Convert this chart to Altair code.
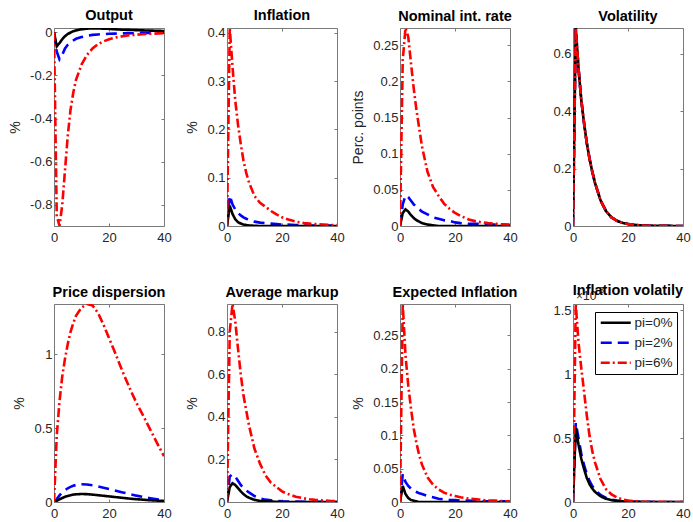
import altair as alt
import pandas as pd

FONT = "Liberation Sans"
GRAY = "#262626"
AX = "#7a7a7a"

T = [0, 1, 2, 3, 4, 5, 6, 7, 8, 10, 12, 14, 16, 18, 20, 22, 25, 28, 30, 32, 35, 38, 40]
SERIES = ["pi=0%", "pi=2%", "pi=6%"]
COLORS = ["#000000", "#0000ff", "#ff0000"]
DASHES = [[1, 0], [11, 6], [9, 3, 2, 3]]
DRAW_ORDER = [1, 0, 2]  # blue under black, red on top
X_TICKS = [0, 20, 40]
EXPONENT = ["×10", "-3"]

# Output
out_0 = [0, -0.065, -0.05, -0.032, -0.018, -0.008, -0.001, 0.005, 0.009, 0.014, 0.017, 0.018, 0.018, 0.017, 0.016, 0.014, 0.012, 0.011, 0.010, 0.009, 0.008, 0.007, 0.006]
out_2 = [0, -0.09, -0.125, -0.105, -0.075, -0.058, -0.047, -0.038, -0.03, -0.022, -0.016, -0.012, -0.01, -0.008, -0.007, -0.006, -0.005, -0.004, -0.004, -0.003, -0.003, -0.002, -0.002]
out_6 = [0, -0.85, -0.898, -0.8, -0.64, -0.48, -0.36, -0.28, -0.22, -0.15, -0.105, -0.075, -0.055, -0.042, -0.032, -0.025, -0.018, -0.013, -0.011, -0.009, -0.007, -0.005, -0.004]
# Inflation
inf_0 = [0, 0.042, 0.025, 0.014, 0.008, 0.005, 0.003, 0.002, 0.001, 0.0005, 0, 0, 0, 0, 0, 0, 0, 0, 0, 0, 0, 0, 0]
inf_2 = [0, 0.063, 0.045, 0.034, 0.027, 0.022, 0.018, 0.015, 0.013, 0.009, 0.007, 0.006, 0.005, 0.004, 0.003, 0.003, 0.002, 0.002, 0.001, 0.001, 0.001, 0.001, 0.001]
inf_6 = [0, 0.41, 0.33, 0.26, 0.21, 0.17, 0.135, 0.11, 0.09, 0.062, 0.048, 0.04, 0.031, 0.024, 0.018, 0.014, 0.009, 0.006, 0.005, 0.004, 0.003, 0.002, 0.002]
# Nominal interest rate
nom_0 = [0, 0.018, 0.023, 0.02, 0.015, 0.011, 0.008, 0.006, 0.004, 0.002, 0.001, 0, 0, 0, 0, 0, 0, 0, 0, 0, 0, 0, 0]
nom_2 = [0, 0.03, 0.042, 0.04, 0.035, 0.03, 0.026, 0.023, 0.02, 0.016, 0.012, 0.01, 0.008, 0.007, 0.005, 0.004, 0.003, 0.003, 0.002, 0.002, 0.002, 0.002, 0.001]
nom_6 = [0, 0.23, 0.274, 0.262, 0.225, 0.19, 0.16, 0.135, 0.11, 0.075, 0.054, 0.042, 0.031, 0.024, 0.018, 0.014, 0.009, 0.006, 0.005, 0.004, 0.003, 0.002, 0.002]
# Volatility (identical across inflation targets)
vol_0 = [0, 0.69, 0.55, 0.44, 0.36, 0.29, 0.235, 0.19, 0.15, 0.09, 0.052, 0.03, 0.018, 0.011, 0.007, 0.004, 0.002, 0.001, 0.0008, 0.0005, 0.0003, 0.0002, 0.0001]
vol_2 = [0, 0.69, 0.55, 0.44, 0.36, 0.29, 0.235, 0.19, 0.15, 0.09, 0.052, 0.03, 0.018, 0.011, 0.007, 0.004, 0.002, 0.001, 0.0008, 0.0005, 0.0003, 0.0002, 0.0001]
vol_6 = [0, 0.69, 0.55, 0.44, 0.36, 0.29, 0.235, 0.19, 0.15, 0.09, 0.052, 0.03, 0.018, 0.011, 0.007, 0.004, 0.002, 0.001, 0.0008, 0.0005, 0.0003, 0.0002, 0.0001]
# Price dispersion
pd_0 = [0, 0.008, 0.018, 0.027, 0.035, 0.041, 0.046, 0.05, 0.052, 0.054, 0.053, 0.05, 0.046, 0.042, 0.038, 0.034, 0.028, 0.022, 0.019, 0.016, 0.012, 0.009, 0.007]
pd_2 = [0, 0.02, 0.045, 0.065, 0.08, 0.093, 0.102, 0.11, 0.115, 0.12, 0.118, 0.113, 0.106, 0.097, 0.088, 0.079, 0.065, 0.051, 0.043, 0.036, 0.026, 0.017, 0.012]
pd_6 = [0, 0.45, 0.68, 0.85, 0.97, 1.07, 1.15, 1.21, 1.26, 1.315, 1.34, 1.33, 1.28, 1.2, 1.11, 1.02, 0.88, 0.75, 0.67, 0.6, 0.49, 0.38, 0.31]
# Average markup
mk_0 = [0, 0.07, 0.088, 0.08, 0.065, 0.05, 0.037, 0.027, 0.02, 0.01, 0.005, 0.003, 0.002, 0.001, 0, 0, 0, 0, 0, 0, 0, 0, 0]
mk_2 = [0, 0.12, 0.13, 0.12, 0.1, 0.08, 0.065, 0.054, 0.045, 0.028, 0.017, 0.011, 0.008, 0.005, 0.003, 0.002, 0.002, 0.001, 0.001, 0.001, 0.001, 0.001, 0]
mk_6 = [0, 0.8, 0.93, 0.85, 0.72, 0.6, 0.5, 0.43, 0.36, 0.25, 0.18, 0.125, 0.09, 0.07, 0.05, 0.038, 0.025, 0.017, 0.013, 0.01, 0.007, 0.005, 0.004]
# Expected inflation
ei_0 = [0, 0.024, 0.012, 0.006, 0.003, 0.002, 0.001, 0, 0, 0, 0, 0, 0, 0, 0, 0, 0, 0, 0, 0, 0, 0, 0]
ei_2 = [0, 0.042, 0.03, 0.024, 0.02, 0.017, 0.015, 0.013, 0.012, 0.009, 0.007, 0.005, 0.004, 0.003, 0.003, 0.002, 0.002, 0.001, 0.001, 0.001, 0.001, 0.001, 0.001]
ei_6 = [0, 0.297, 0.22, 0.175, 0.14, 0.11, 0.088, 0.07, 0.056, 0.037, 0.026, 0.019, 0.014, 0.011, 0.009, 0.007, 0.005, 0.004, 0.003, 0.002, 0.002, 0.001, 0.001]
# Inflation volatility (x 10^-3)
iv_0 = [0, 0.58, 0.45, 0.34, 0.26, 0.19, 0.14, 0.105, 0.08, 0.045, 0.025, 0.014, 0.008, 0.005, 0.003, 0.002, 0.001, 0, 0, 0, 0, 0, 0]
iv_2 = [0, 0.62, 0.5, 0.38, 0.29, 0.22, 0.165, 0.125, 0.095, 0.055, 0.032, 0.018, 0.011, 0.006, 0.004, 0.002, 0.001, 0.001, 0, 0, 0, 0, 0]
iv_6 = [0, 1.55, 1.25, 1.05, 0.87, 0.68, 0.52, 0.4, 0.31, 0.18, 0.1, 0.06, 0.035, 0.02, 0.012, 0.007, 0.003, 0.002, 0.001, 0.001, 0, 0, 0]

PANELS = [
    ("Output", "%", [-0.898, 0.02], [-0.8, -0.6, -0.4, -0.2, 0], [out_0, out_2, out_6]),
    ("Inflation", "%", [0, 0.41], [0, 0.1, 0.2, 0.3, 0.4], [inf_0, inf_2, inf_6]),
    ("Nominal int. rate", "Perc. points", [0, 0.274], [0, 0.05, 0.1, 0.15, 0.2, 0.25], [nom_0, nom_2, nom_6]),
    ("Volatility", "", [0, 0.69], [0, 0.2, 0.4, 0.6], [vol_0, vol_2, vol_6]),
    ("Price dispersion", "%", [0, 1.34], [0, 0.5, 1], [pd_0, pd_2, pd_6]),
    ("Average markup", "%", [0, 0.93], [0, 0.2, 0.4, 0.6, 0.8], [mk_0, mk_2, mk_6]),
    ("Expected Inflation", "%", [0, 0.297], [0, 0.05, 0.1, 0.15, 0.2, 0.25], [ei_0, ei_2, ei_6]),
    ("Inflation volatily", "", [0, 1.55], [0, 0.5, 1, 1.5], [iv_0, iv_2, iv_6]),
]

INWARD = {"expr": "-3"}
LABEL_SIZE = 13
TITLE_SIZE = 14.5


def make_panel(idx, title, ytitle, ydom, yticks, series):
    rows = []
    for k in DRAW_ORDER:
        for t, v in zip(T, series[k]):
            rows.append({"t": t, "v": v, "s": SERIES[k]})
    df = pd.DataFrame(rows)
    xs = alt.Scale(domain=[0, 40], nice=False, zero=False)
    ys = alt.Scale(domain=ydom, nice=False, zero=False)
    common = dict(domain=False, grid=False, tickSize=INWARD, tickColor=AX, tickWidth=1,
                  labelFont=FONT, labelFontSize=LABEL_SIZE, labelColor=GRAY,
                  labelExpr="'' + datum.value", labelFlush=False)
    xaxis = alt.Axis(values=X_TICKS, title=None, labelPadding=8, **common)
    yargs = dict(values=yticks, labelPadding=5,
                 titleFont=FONT, titleFontSize=14, titleColor=GRAY,
                 titleFontWeight="normal", titlePadding=7, **common)
    if ytitle:
        yaxis = alt.Axis(title=ytitle, **yargs)
    else:
        yaxis = alt.Axis(title=None, **yargs)
    is_last = idx == len(PANELS) - 1
    if is_last:
        leg = alt.Legend(title=None, orient="none", legendX=22, legendY=8,
                         strokeColor="black", fillColor="white", padding=4,
                         symbolType="M-3,0H3", symbolSize=100, symbolStrokeWidth=2.5,
                         symbolOffset=10,
                         labelFont=FONT, labelFontSize=13.5, labelColor=GRAY,
                         labelOffset=12, rowPadding=5)
    else:
        leg = None
    lines = alt.Chart(df).mark_line(strokeWidth=2.6, clip=True).encode(
        x=alt.X("t:Q", scale=xs, axis=xaxis),
        y=alt.Y("v:Q", scale=ys, axis=yaxis),
        color=alt.Color("s:N", scale=alt.Scale(domain=SERIES, range=COLORS), legend=leg),
        strokeDash=alt.StrokeDash("s:N", scale=alt.Scale(domain=SERIES, range=DASHES), legend=leg),
    )
    frame_axes = dict(domain=False, grid=False, labels=False, title=None,
                      tickSize=INWARD, tickColor=AX, tickWidth=1)
    frame = alt.Chart(df).mark_line(opacity=0).encode(
        x=alt.X("t:Q", scale=xs, axis=alt.Axis(orient="top", values=X_TICKS, **frame_axes)),
        y=alt.Y("v:Q", scale=ys, axis=alt.Axis(orient="right", values=yticks, **frame_axes)),
    )
    layers = [lines, frame]
    offset = 3
    if is_last:
        ex = pd.DataFrame({"txt": [EXPONENT[0]]})
        sup = pd.DataFrame({"txt": [EXPONENT[1]]})
        layers.append(alt.Chart(ex).mark_text(align="left", baseline="alphabetic", font=FONT,
                                              fontSize=12, color=GRAY).encode(
            text="txt:N", x=alt.value(3), y=alt.value(-4)))
        layers.append(alt.Chart(sup).mark_text(align="left", baseline="alphabetic", font=FONT,
                                               fontSize=9, color=GRAY).encode(
            text="txt:N", x=alt.value(23), y=alt.value(-11)))
        offset = -12
    ch = alt.layer(*layers).resolve_scale(x="independent", y="independent")
    return ch.properties(
        width=110, height=198,
        title=alt.TitleParams(title, font=FONT, fontSize=TITLE_SIZE, fontWeight="bold",
                              color="black", offset=offset, frame="group", anchor="middle"),
    )


panels = [make_panel(i, *p) for i, p in enumerate(PANELS)]

chart = alt.concat(*panels, columns=4, spacing={"row": 78, "column": 63}, bounds="flush").resolve_legend(
    color="independent", strokeDash="independent"
).configure_view(
    stroke=AX, strokeWidth=1
).properties(
    padding={"left": 8, "top": 7, "right": 2, "bottom": 2},
    background="white",
)

chart.save("out.html", embed_options={"renderer": "svg", "actions": False})
